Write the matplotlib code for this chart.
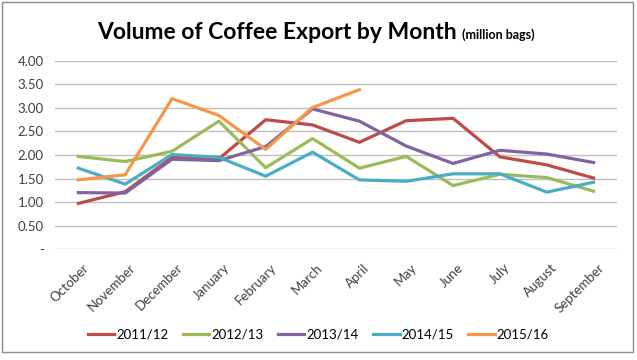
import matplotlib.pyplot as plt
import matplotlib.transforms as mtransforms
from matplotlib.patches import Rectangle

plt.rcParams['font.family'] = ['Lato', 'DejaVu Sans']

months = ["October", "November", "December", "January", "February", "March",
          "April", "May", "June", "July", "August", "September"]

v_2011 = [0.97, 1.22, 1.95, 1.92, 2.75, 2.64, 2.27, 2.73, 2.78, 1.96, 1.79, 1.51]
v_2012 = [1.97, 1.86, 2.08, 2.72, 1.73, 2.35, 1.72, 1.97, 1.35, 1.59, 1.52, 1.23]
v_2013 = [1.20, 1.19, 1.91, 1.88, 2.18, 2.98, 2.72, 2.19, 1.82, 2.10, 2.02, 1.84]
v_2014 = [1.72, 1.38, 2.01, 1.95, 1.55, 2.06, 1.47, 1.44, 1.60, 1.60, 1.21, 1.42]
v_2015 = [1.47, 1.58, 3.20, 2.84, 2.12, 3.01, 3.39]

series = [("2011/12", v_2011, "#BE4B48"),
          ("2012/13", v_2012, "#9BBB59"),
          ("2013/14", v_2013, "#8064A2"),
          ("2014/15", v_2014, "#4BACC6"),
          ("2015/16", v_2015, "#F79646")]

yticks = [0, 0.5, 1.0, 1.5, 2.0, 2.5, 3.0, 3.5, 4.0]
ylabels = ["-"] + ["%.2f" % t for t in yticks[1:]]

fig = plt.figure(figsize=(6.37, 3.60), dpi=100)
ax = fig.add_axes([0.0863, 0.3083, 0.8823, 0.5223])

for name, vals, col in series:
    ax.plot(range(len(vals)), vals, color=col, lw=2.3, label=name,
            solid_joinstyle="round")

ax.set_xlim(-0.5, 11.5)
ax.set_ylim(0, 4)
ax.set_yticks(yticks)
ax.set_yticklabels(ylabels, fontsize=9.5, color="#404040")
ax.set_xticks(range(12))
ax.set_xticklabels(months, rotation=45, ha="right", rotation_mode="anchor",
                   fontsize=9.5, color="#404040")
ax.tick_params(length=0, pad=8)
ax.tick_params(axis="x", pad=9)
# shift the slanted month labels a little to the right, like Excel does
shift = mtransforms.ScaledTranslation(4 / 100, 0, fig.dpi_scale_trans)
for lbl in ax.get_xticklabels():
    lbl.set_transform(lbl.get_transform() + shift)
ax.grid(axis="y", color="#BFBFBF", lw=1)
ax.set_axisbelow(True)
for s in ax.spines.values():
    s.set_visible(False)

fig.text(0.152, 0.893, "Volume of Coffee Export by Month", fontsize=16.5,
         fontweight="bold", ha="left", va="baseline")
fig.text(0.725, 0.893, "(million bags)", fontsize=9, fontweight="bold",
         ha="left", va="baseline")

fig.legend(loc="center", bbox_to_anchor=(0.5, 0.07), ncol=5, frameon=False,
           fontsize=9.5, handlelength=2.0, handletextpad=0.15, columnspacing=1.1)

fig.patches.append(Rectangle((0.003, 0.022), 0.99, 0.972, transform=fig.transFigure,
                             fill=False, edgecolor="#8C8C8C", lw=1))

fig.savefig("out.png", dpi=100)
